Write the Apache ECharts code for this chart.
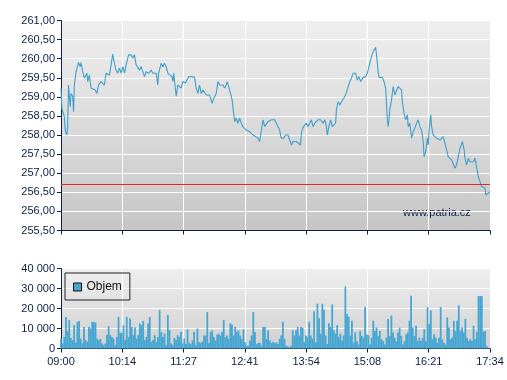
<!DOCTYPE html>
<html><head><meta charset="utf-8">
<script src="https://cdn.jsdelivr.net/npm/echarts@6/dist/echarts.min.js"></script>
<style>html,body{margin:0;padding:0;background:#fff}#c{width:507px;height:380px}</style>
</head><body><div id="c"></div>
<script>
// x-axis tick labels (session 09:00 - 17:34)
const timeLabels = ['09:00','10:14','11:27','12:41','13:54','15:08','16:21','17:34'];
const sessionMinutes = 514;
const previousClose = 256.70;
const seriesName = 'Objem';
const watermark = 'www.patria.cz';

// price: [minutes after 09:00, price]
const priceTicks = [
[0,259.23],[1,258.70],[4,258.48],[5,258.13],[7,258.00],[8,258.22],[9,259.31],[11,258.74],[12,259.09],[14,259.01],
[15,258.61],[16,259.31],[17,259.31],[18,259.66],[20,259.62],[21,259.90],[23,259.79],[24,259.90],[26,259.66],[28,259.49],
[31,259.62],[32,259.40],[34,259.57],[36,259.23],[38,259.20],[41,259.18],[43,259.09],[45,259.31],[48,259.40],[50,259.40],
[52,259.31],[54,259.62],[56,259.66],[58,259.57],[60,259.84],[62,260.12],[64,259.88],[66,259.70],[68,259.62],[70,259.75],
[72,259.62],[74,259.79],[76,259.62],[78,259.84],[81,260.10],[84,260.10],[86,260.01],[88,260.10],[90,259.84],[92,259.84],
[94,259.70],[96,259.79],[98,259.66],[100,259.53],[102,259.66],[105,259.62],[108,259.70],[110,259.62],[114,259.62],[116,259.31],
[117,259.62],[120,259.88],[122,259.79],[124,259.88],[126,259.79],[128,259.62],
[130,259.62],[133,259.53],[134,259.40],[135,259.62],[137,259.62],[138,259.02],[140,259.31],[142,259.31],[144,259.23],[146,259.40],
[149,259.36],[151,259.40],[153,259.53],[156,259.53],[160,259.51],[162,259.23],[164,259.09],[166,259.31],[168,259.09],[170,259.18],
[172,259.23],[174,259.05],[176,259.09],[178,259.05],[180,259.09],[181,258.83],[183,258.96],[186,259.09],[188,259.40],[190,259.31],
[194,259.31],[196,259.23],[198,259.31],[199,259.40],[201,259.27],[203,259.09],[205,258.92],[206,258.87],[208,258.35],[210,258.44],
[212,258.31],[214,258.44],[216,258.31],[218,258.22],[222,258.13],[224,258.18],[226,258.09],[228,258.13],[230,258.00],[233,257.96],
[236,257.92],[238,257.83],[240,257.83],[242,258.40],[244,258.22],[246,258.22],[248,258.35],[252,258.40],[254,258.35],[256,258.40],
[258,258.31],[260,258.35],[262,258.13],
[263,258.00],[264,257.92],[267,257.92],[269,258.00],[272,258.00],[274,257.87],[276,257.74],[278,257.83],[280,257.87],[282,257.83],
[284,257.87],[287,257.74],[288,258.05],[290,258.20],[292,258.18],[294,258.31],[296,258.22],[298,258.31],[300,258.40],[302,258.22],
[304,258.31],[306,258.26],[308,258.40],[311,258.40],[314,258.31],[316,258.40],[318,258.22],[319,258.00],[321,258.22],[323,258.40],
[325,258.22],[327,258.20],[329,258.31],[330,258.66],[332,258.87],[334,258.79],[336,258.87],[338,258.83],[340,259.01],[342,259.11],
[344,259.27],[346,259.40],[348,259.49],[350,259.62],[353,259.62],[355,259.44],[357,259.53],[359,259.40],[362,259.51],[365,259.53],
[367,259.62],[369,259.66],[371,259.97],[373,260.14],[375,260.18],[377,260.30],[378,260.10],[380,259.66],[381,259.51],[385,259.51],
[387,259.40],[389,259.23],
[391,258.40],[392,258.22],[394,258.66],[396,258.92],[398,259.27],[400,259.05],[402,259.05],[404,259.27],[406,259.31],[408,259.18],
[409,258.87],[411,258.57],[413,258.40],[415,258.53],[416,258.22],[418,258.31],[420,257.92],[422,258.09],[424,258.18],[426,258.31],
[428,258.40],[430,258.22],[432,258.13],[434,257.83],[435,257.43],[437,257.57],[439,257.92],[440,257.74],[441,258.13],[443,258.53],
[444,258.22],[446,258.00],[448,257.96],[450,257.92],[452,257.96],[454,257.87],[456,257.92],[458,257.96],[460,257.79],[462,257.61],
[464,257.43],[466,257.39],[468,257.35],[470,257.30],[472,257.13],[474,257.22],[476,257.43],[478,257.65],[480,257.70],[481,257.83],
[483,257.61],[484,257.39],[486,257.22],[488,257.39],[490,257.30],[492,257.35],[494,257.30],[496,257.39],[498,257.35],[500,256.91],
[502,256.78],[504,256.65],[506,256.69],[508,256.61],[509,256.43],[511,256.48],[514,256.52]
];

// volume bars, evenly spaced through the session
const volumes = [
5000,2500,5800,15800,8700,14200,5300,4200,11700,3000,
13300,13800,5000,2500,10800,4200,3300,10800,10000,13300,
13300,13000,5000,4200,4700,2500,1700,2500,6700,11200,
6700,5800,5000,1700,5800,15800,7800,7800,11700,4200,
15800,5800,15000,10800,6700,10500,5000,6700,12500,11700,
13800,4200,5800,12500,15800,3300,4200,6700,3300,5800,
19200,8300,5800,7500,1700,16700,9200,2500,1700,5300,
4200,6700,5800,8300,2500,5000,
2200,9600,2800,2200,4000,8300,1700,10000,3100,2800,
3400,6500,6500,18200,2800,8300,9100,5700,4000,6900,
7400,6500,8300,14300,5700,6500,4800,12600,12000,6500,
10800,8300,9100,6500,4800,9600,3100,1400,1400,4000,
6500,18200,8300,2200,2800,2800,1400,10800,10800,4800,
9100,4000,2800,3400,2800,3100,2200,4800,6500,13400,
4800,1400,1000,500,1400,9100,6500,9100,10800,6500,
10800,10300,3100,6500,5700,13400,6500,4800,18600,3100,
22400,15100,7400,22400,19400,6500,2200,12600,10800,22000,
9100,7400,11700,5700,7400,4000,6500,31000,17200,16000,6500,
13900,2900,8000,3700,2000,8800,6300,5400,20700,7100,
6600,2000,5400,13900,8800,10500,6300,8800,4600,3700,
2000,5400,14800,6300,16500,8000,5400,3700,8000,10500,
6300,2000,3700,7100,8000,13900,26400,10500,6300,11400,
3700,5400,3700,5400,9700,3700,20700,12200,19000,4600,
7100,5400,2900,5400,20700,4600,2900,2000,15600,10500,
4600,5400,13900,8800,13900,21600,8800,10500,8000,14800,
5400,3700,4600,3700,11400,4600,8300,26200,26200,26200,
8300,8800,1200,300,300
];

const chart = echarts.init(document.getElementById('c'), null, {renderer: 'canvas'});
const step = sessionMinutes / (timeLabels.length - 1);
const volumeData = volumes.map((v, i) => [i * sessionMinutes / (volumes.length - 1), v]);
const navy = '#0c1f4c';
const font = 'Liberation Sans, Arial, sans-serif';
const grad = (a, b) => new echarts.graphic.LinearGradient(0, 0, 0, 1, [{offset: 0, color: a}, {offset: 1, color: b}]);
const fmtTime = v => timeLabels[Math.round(v / step)] || '';
const fmtPrice = v => v.toFixed(2).replace('.', ',');
const fmtVol = v => String(Math.round(v)).replace(/\B(?=(\d{3})+(?!\d))/g, ' ');

const xBase = (gi, showLabel) => ({
  gridIndex: gi, type: 'value', min: 0, max: sessionMinutes, interval: step,
  axisLine: {show: true, lineStyle: {color: navy, width: 1}},
  axisTick: {show: true, length: 4, lineStyle: {color: navy}},
  axisLabel: {show: showLabel, formatter: fmtTime, color: navy, fontSize: 11, fontFamily: font, margin: 8},
  splitLine: {show: true, lineStyle: {color: '#ffffff', width: 1}}
});

chart.setOption({
  animation: false,
  backgroundColor: '#ffffff',
  grid: [
    {left: 61, top: 20.5, width: 429, height: 210, show: true, borderWidth: 0, backgroundColor: grad('#efefef', '#c6c6c6')},
    {left: 61, top: 268.5, width: 429, height: 80, show: true, borderWidth: 0, backgroundColor: grad('#efefef', '#d0d0d0')}
  ],
  xAxis: [xBase(0, false), xBase(1, true)],
  yAxis: [
    {gridIndex: 0, type: 'value', min: 255.5, max: 261, interval: 0.5,
     axisLine: {show: true, lineStyle: {color: navy}},
     axisTick: {show: true, length: 4, lineStyle: {color: navy}},
     axisLabel: {formatter: fmtPrice, color: navy, fontSize: 11, fontFamily: font, margin: 6},
     splitLine: {show: true, lineStyle: {color: '#ffffff', width: 1}}},
    {gridIndex: 1, type: 'value', min: 0, max: 40000, interval: 10000,
     axisLine: {show: true, lineStyle: {color: navy}},
     axisTick: {show: true, length: 4, lineStyle: {color: navy}},
     axisLabel: {formatter: fmtVol, color: navy, fontSize: 11, fontFamily: font, margin: 6},
     splitLine: {show: true, lineStyle: {color: '#ffffff', width: 1}}}
  ],
  legend: {
    data: [{name: seriesName, icon: 'rect', itemStyle: {borderColor: '#111', borderWidth: 1}}],
    left: 65, top: 273, orient: 'horizontal',
    itemWidth: 8, itemHeight: 8, itemGap: 4,
    padding: [8, 8, 7, 8], borderColor: '#222', borderWidth: 1, borderRadius: 0, backgroundColor: 'transparent',
    textStyle: {color: '#111', fontSize: 12, fontFamily: font, padding: [0, 0, 0, 0]}
  },
  series: [
    {type: 'line', xAxisIndex: 0, yAxisIndex: 0, data: priceTicks, showSymbol: false, symbol: 'none',
     lineStyle: {color: '#3f9fcd', width: 1.1}, silent: true,
     markLine: {silent: true, symbol: 'none', label: {show: false},
                lineStyle: {color: '#e3262a', width: 1, type: 'solid'},
                data: [{yAxis: previousClose}]}},
    {type: 'bar', name: seriesName, xAxisIndex: 1, yAxisIndex: 1, data: volumeData, barWidth: 1.8,
     itemStyle: {color: '#47a6d2'}, silent: true}
  ],
  graphic: [
    {type: 'text', left: 403, top: 207, style: {text: watermark, fill: navy, font: '11px ' + font}}
  ]
});
</script>
</body></html>
